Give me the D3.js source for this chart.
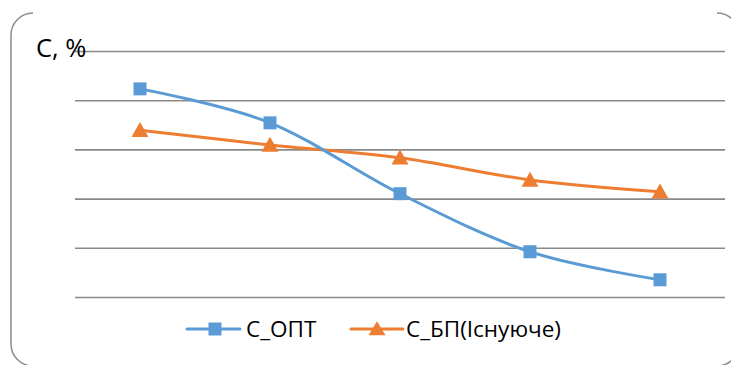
<!DOCTYPE html>
<html><head><meta charset="utf-8">
<script src="https://cdn.jsdelivr.net/npm/d3@7"></script>
<style>body{margin:0;background:#fff;}svg{display:block;}</style>
</head><body>
<svg id="c" width="731" height="365"></svg>
<script>
const categories = ["1", "2", "3", "4", "5"];
const optValues = [42.4, 35.5, 21.1, 9.3, 3.6];
const bpValues = [34.0, 31.0, 28.4, 23.9, 21.5];
const yTicks = [0, 10, 20, 30, 40, 50];
const seriesNames = ["C_ОПТ", "C_БП(Існуюче)"];

const svg = d3.select("#c");
const FONT = "'Open Sans', 'Noto Sans', sans-serif";

// frame (partial rounded border)
const fx0 = 11, fy0 = 13, fx1 = 739, fy1 = 366, r = 22;
const p = d3.path();
p.moveTo(fx0 + r, fy0);
p.arcTo(fx0, fy0, fx0, fy0 + r, r);
p.lineTo(fx0, fy1 - r);
p.arcTo(fx0, fy1, fx0 + r, fy1, r);
p.lineTo(fx1 - r, fy1);
p.arcTo(fx1, fy1, fx1, fy1 - r, r);
const p2 = d3.path();
p2.moveTo(fx1 - r, fy0);
p2.arcTo(fx1, fy0, fx1, fy0 + r, r);
svg.append("path").attr("d", p.toString()).attr("fill", "none").attr("stroke", "#8c8c8c").attr("stroke-width", 1.5);
svg.append("path").attr("d", p2.toString()).attr("fill", "none").attr("stroke", "#8c8c8c").attr("stroke-width", 1.5);

const x = d3.scaleBand().domain(categories).range([75, 725]);
const y = d3.scaleLinear().domain([0, 50]).range([297.5, 51.5]);

// gridlines
svg.append("g").selectAll("line").data(yTicks).join("line")
  .attr("x1", 75).attr("x2", 725)
  .attr("y1", d => y(d)).attr("y2", d => y(d))
  .attr("stroke", "#898989").attr("stroke-width", 1.6);

// title
svg.append("text").attr("x", 36).attr("y", 57).text("C, %")
  .attr("font-family", FONT).attr("font-size", 25.5).attr("fill", "#000");

const cx = d => x(d) + x.bandwidth() / 2;
const line = d3.line().curve(d3.curveCatmullRom.alpha(0));
const blue = "#5B9BD5", orange = "#ED7D31";

const optPts = categories.map((c, i) => [cx(c), y(optValues[i])]);
const bpPts = categories.map((c, i) => [cx(c), y(bpValues[i])]);

svg.append("path").attr("d", line(bpPts)).attr("fill", "none").attr("stroke", orange).attr("stroke-width", 3).attr("stroke-linecap", "round");
svg.append("path").attr("d", line(optPts)).attr("fill", "none").attr("stroke", blue).attr("stroke-width", 3).attr("stroke-linecap", "round");

const tri = (cx0, cy0, w, h) => `M${cx0},${cy0 - h * 0.55}L${cx0 + w / 2},${cy0 + h * 0.45}L${cx0 - w / 2},${cy0 + h * 0.45}Z`;

svg.append("g").selectAll("path").data(bpPts).join("path")
  .attr("d", d => tri(d[0], d[1], 17, 15)).attr("fill", orange);
svg.append("g").selectAll("rect").data(optPts).join("rect")
  .attr("x", d => d[0] - 6.5).attr("y", d => d[1] - 6.5)
  .attr("width", 13).attr("height", 13).attr("fill", blue);

// legend
const ly = 329;
const lg = svg.append("g");
lg.append("line").attr("x1", 187).attr("x2", 240).attr("y1", ly).attr("y2", ly).attr("stroke", blue).attr("stroke-width", 3).attr("stroke-linecap", "round");
lg.append("rect").attr("x", 208.5).attr("y", ly - 6.5).attr("width", 13).attr("height", 13).attr("fill", blue);
lg.append("text").attr("x", 246).attr("y", ly + 8).text(seriesNames[0])
  .attr("font-family", FONT).attr("font-size", 22.5).attr("fill", "#000");
lg.append("line").attr("x1", 351).attr("x2", 403).attr("y1", ly).attr("y2", ly).attr("stroke", orange).attr("stroke-width", 3).attr("stroke-linecap", "round");
lg.append("path").attr("d", tri(377, ly, 17, 14)).attr("fill", orange);
lg.append("text").attr("x", 406).attr("y", ly + 8).text(seriesNames[1])
  .attr("font-family", FONT).attr("font-size", 22.5).attr("fill", "#000");
</script>
</body></html>
